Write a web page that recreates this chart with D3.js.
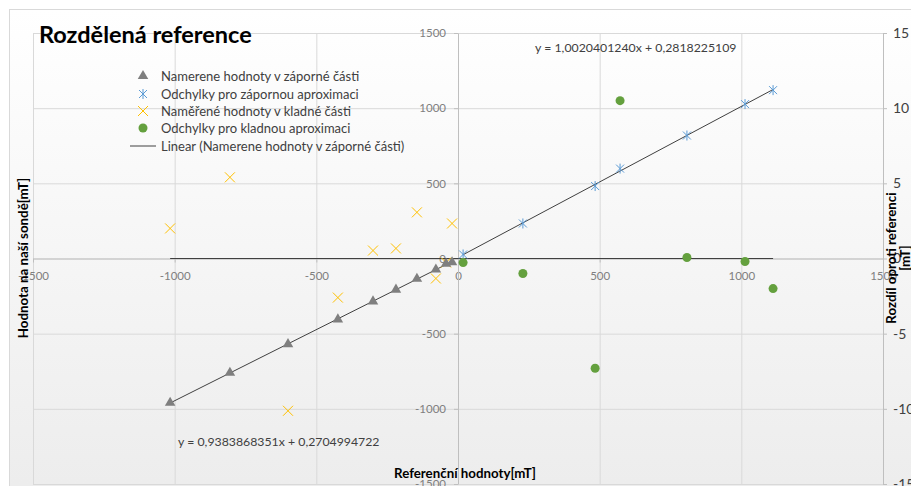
<!DOCTYPE html>
<html>
<head>
<meta charset="utf-8">
<script src="https://cdn.jsdelivr.net/npm/d3@7"></script>
<style>
  body { margin: 0; background: #fff; }
  svg { display: block; font-family: Lato, "Open Sans", sans-serif; }
</style>
</head>
<body>
<svg id="canvas" width="911" height="486"></svg>
<script>
// reference values (x) and readings
let refNeg = [-1016, -805, -600, -424, -300, -219, -145, -78, -42, -21]
let measNeg = [-960, -760, -570, -405, -285, -207, -135, -73, -35, -25]
let measPosY = [200, 540, -1013, -260, 53, 67, 307, -133, -27, 233]

let refPos = [18, 229, 484, 572, 808, 1013, 1112]
let devNegApprox = [27, 233, 482, 598, 818, 1027, 1120]
let devPosApprox = [-0.27, -1.0, -7.3, 10.5, 0.07, -0.2, -2.0]

let zeroLineX = [-1016, 1112]

let xTicks = [-1500, -1000, -500, 0, 500, 1000, 1500]
let yTicks = [-1500, -1000, -500, 0, 500, 1000, 1500]
let y2Ticks = [-15, -10, -5, 0, 5, 10, 15]

let eqNeg = 'y = 0,9383868351x + 0,2704994722'
let eqPos = 'y = 1,0020401240x + 0,2818225109'

let legendNames = [
    'Namerene hodnoty v záporné části',
    'Odchylky pro zápornou aproximaci',
    'Naměřené hodnoty v kladné části',
    'Odchylky pro kladnou aproximaci',
    'Linear (Namerene hodnoty v záporné části)'
]

let canvas = d3.select('#canvas')

let x = d3.scaleLinear().domain([-1500, 1500]).range([33, 883])
let y = d3.scaleLinear().domain([-1500, 1500]).range([484, 33])
let y2 = d3.scaleLinear().domain([-15, 15]).range([484, 33])

// background with soft gradient
let defs = canvas.append('defs')
let grad = defs.append('linearGradient').attr('id', 'bg')
    .attr('x1', 0).attr('y1', 0).attr('x2', 0).attr('y2', 1)
grad.append('stop').attr('offset', '0%').attr('stop-color', '#ffffff')
grad.append('stop').attr('offset', '100%').attr('stop-color', '#ececec')

canvas.append('rect')
    .attr('x', 9.5).attr('y', 9.5)
    .attr('width', 920).attr('height', 500)
    .attr('fill', 'url(#bg)')
    .attr('stroke', '#d9d9d9')

// gridlines
canvas.append('g').selectAll('line')
    .data(xTicks)
    .enter()
    .append('line')
    .attr('x1', (d) => x(d) + 0.5).attr('x2', (d) => x(d) + 0.5)
    .attr('y1', y(1500)).attr('y2', y(-1500))
    .attr('stroke', '#d9d9d9')
canvas.append('g').selectAll('line')
    .data(yTicks)
    .enter()
    .append('line')
    .attr('y1', (d) => y(d) + 0.5).attr('y2', (d) => y(d) + 0.5)
    .attr('x1', x(-1500)).attr('x2', x(1500))
    .attr('stroke', '#d9d9d9')

// axes
let styleAxis = (g, color, size) => {
    g.select('.domain').attr('stroke', '#bfbfbf')
    g.selectAll('.tick line').attr('stroke', '#bfbfbf')
    g.selectAll('text').attr('fill', color).style('font-size', size + 'px')
        .style('font-family', 'Lato, sans-serif')
}
let plain = (d) => String(d)

canvas.append('g')
    .attr('transform', 'translate(0,' + y(0) + ')')
    .call(d3.axisBottom(x).tickValues(xTicks).tickFormat(plain).tickSize(4).tickPadding(9).tickSizeOuter(0))
    .call((g) => styleAxis(g, '#7f7f7f', 11.5))

canvas.append('g')
    .attr('transform', 'translate(' + x(0) + ',0)')
    .call(d3.axisLeft(y).tickValues(yTicks).tickFormat(plain).tickSize(4).tickPadding(8).tickSizeOuter(0))
    .call((g) => styleAxis(g, '#7f7f7f', 11.5))

canvas.append('g')
    .attr('transform', 'translate(' + x(1500) + ',0)')
    .call(d3.axisRight(y2).tickValues(y2Ticks).tickFormat(plain).tickSize(4).tickPadding(6).tickSizeOuter(0))
    .call((g) => styleAxis(g, '#404040', 14))

// lines: zero line of the deviations and the two linear fits
let fit = (xs, ys) => {
    let mx = d3.mean(xs), my = d3.mean(ys)
    let sxy = d3.sum(xs, (v, i) => (v - mx) * (ys[i] - my))
    let sxx = d3.sum(xs, (v) => (v - mx) * (v - mx))
    let k = sxy / sxx
    return { k: k, q: my - k * mx }
}
let lineColor = '#404040'

canvas.append('line')
    .attr('x1', x(zeroLineX[0])).attr('x2', x(zeroLineX[1]))
    .attr('y1', y2(0)).attr('y2', y2(0))
    .attr('stroke', lineColor).attr('stroke-width', 1.2)

let fitNeg = fit(refNeg, measNeg)
let fitPos = fit(refPos, devNegApprox)
let xnExt = d3.extent(refNeg), xpExt = d3.extent(refPos)
canvas.append('line')
    .attr('x1', x(xnExt[0])).attr('y1', y(fitNeg.k * xnExt[0] + fitNeg.q))
    .attr('x2', x(xnExt[1])).attr('y2', y(fitNeg.k * xnExt[1] + fitNeg.q))
    .attr('stroke', lineColor).attr('stroke-width', 1)
canvas.append('line')
    .attr('x1', x(xpExt[0])).attr('y1', y(fitPos.k * xpExt[0] + fitPos.q))
    .attr('x2', x(xpExt[1])).attr('y2', y(fitPos.k * xpExt[1] + fitPos.q))
    .attr('stroke', lineColor).attr('stroke-width', 1)

// markers
let triangle = d3.symbol().type(d3.symbolTriangle).size(48)
let drawTriangle = (g) => g.append('path').attr('d', triangle).attr('fill', '#7f7f7f')
let drawStar = (g) => {
    g.append('path').attr('d', 'M-4,-4L4,4M-4,4L4,-4M0,-5L0,5')
        .attr('stroke', '#5b9bd5').attr('stroke-width', 1).attr('fill', 'none')
}
let drawCross = (g) => {
    g.append('path').attr('d', 'M-5,-5L5,5M-5,5L5,-5')
        .attr('stroke', '#ffc000').attr('stroke-width', 1).attr('fill', 'none')
}
let drawDot = (g) => g.append('circle').attr('r', 4.5).attr('fill', '#64a03e')

let plotSeries = (xs, ys, scale, draw) => {
    canvas.append('g').selectAll('g')
        .data(xs.map((v, i) => [v, ys[i]]))
        .enter()
        .append('g')
        .attr('transform', (d) => 'translate(' + x(d[0]) + ',' + scale(d[1]) + ')')
        .each(function () { draw(d3.select(this)) })
}

plotSeries(refNeg, measPosY, y, drawCross)
plotSeries(refNeg, measNeg, y, drawTriangle)
plotSeries(refPos, devNegApprox, y, drawStar)
plotSeries(refPos, devPosApprox, y2, drawDot)

// equations
canvas.append('text').text(eqPos)
    .attr('x', 535).attr('y', 52)
    .attr('fill', '#404040').style('font-size', '12.3px')
canvas.append('text').text(eqNeg)
    .attr('x', 178).attr('y', 446)
    .attr('fill', '#404040').style('font-size', '12.3px')

// titles
canvas.append('text').text('Rozdělená reference')
    .attr('x', 39).attr('y', 43)
    .style('font-size', '23.5px').style('font-weight', 'bold').attr('fill', '#000')

canvas.append('text').text('Referenční hodnoty[mT]')
    .attr('x', 465).attr('y', 478).attr('text-anchor', 'middle')
    .style('font-size', '13.3px').style('font-weight', 'bold').attr('fill', '#000')

canvas.append('text').text('Hodnota na naší sondě[mT]')
    .attr('transform', 'translate(28,258) rotate(-90)').attr('text-anchor', 'middle')
    .style('font-size', '13.3px').style('font-weight', 'bold').attr('fill', '#000')

let rightTitle = canvas.append('text')
    .attr('transform', 'translate(896,258) rotate(-90)').attr('text-anchor', 'middle')
    .style('font-size', '13.3px').style('font-weight', 'bold').attr('fill', '#000')
rightTitle.append('tspan').attr('x', 0).attr('y', 0).text('Rozdíl oproti referenci')
rightTitle.append('tspan').attr('x', 0).attr('y', 14).text('[mT]')

// legend
let legendY = [76, 94, 111, 128, 146]
let legendDraw = [drawTriangle, drawStar, drawCross, drawDot, null]
let legend = canvas.append('g')
legendNames.forEach((name, i) => {
    let g = legend.append('g').attr('transform', 'translate(143,' + legendY[i] + ')')
    if (legendDraw[i]) {
        legendDraw[i](g)
    } else {
        g.append('line').attr('x1', -13).attr('x2', 13)
            .attr('stroke', lineColor).attr('stroke-width', 1)
    }
    g.append('text').text(name)
        .attr('x', 18).attr('y', 5)
        .attr('fill', '#404040').style('font-size', '13px')
})
</script>
</body>
</html>
